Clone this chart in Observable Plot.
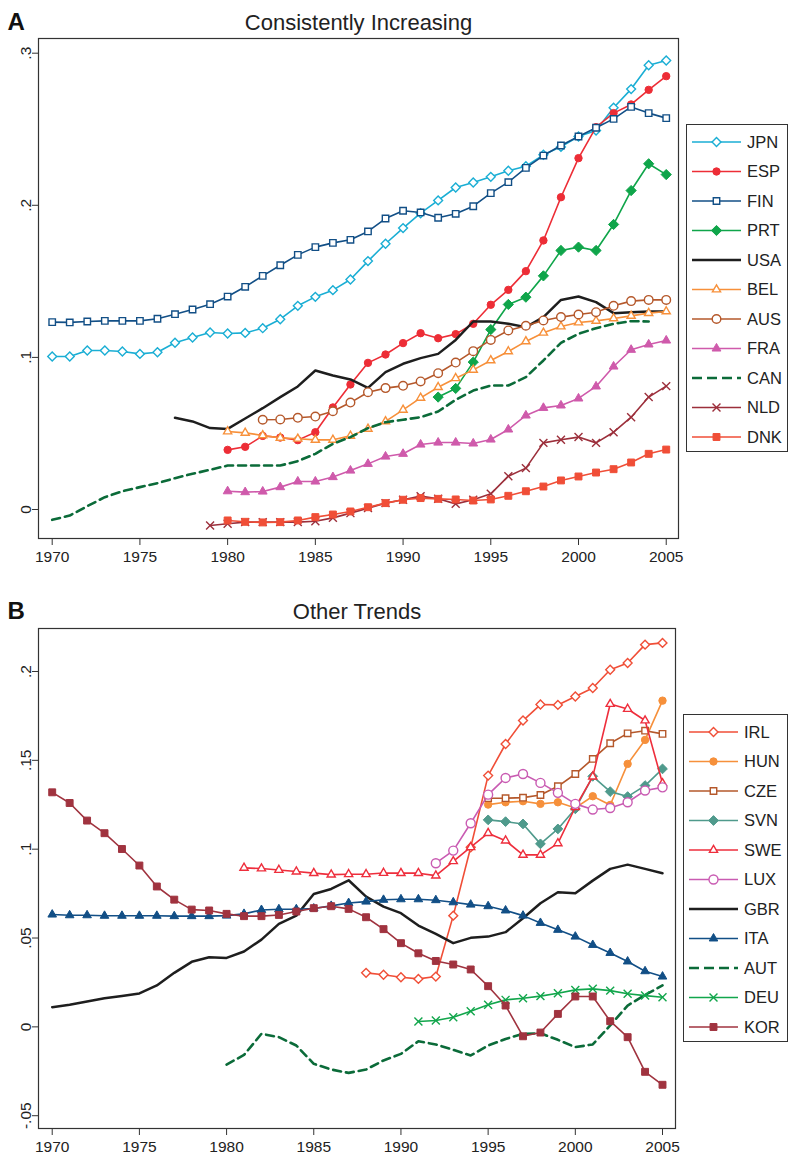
<!DOCTYPE html>
<html><head><meta charset="utf-8">
<script src="https://cdn.jsdelivr.net/npm/d3@7"></script>
<script src="https://cdn.jsdelivr.net/npm/@observablehq/plot@0.6"></script>
<style>
body{margin:0;background:#fff;}
#wrap{position:relative;width:788px;height:1158px;overflow:hidden;background:#fff;font-family:"Liberation Sans",Arial,Helvetica,sans-serif;}
#wrap svg{position:absolute;}
</style></head>
<body><div id="wrap"></div>
<script>
// ---------- Panel A data ----------
const JPN = [.1006,.1006,.1045,.1045,.1039,.1023,.1034,.1096,.1131,.1164,.1157,.1161,.1192,.1251,.1339,.1398,.1442,.1512,.1633,.1747,.185,.1948,.2032,.2117,.215,.2187,.2227,.2257,.2332,.2384,.2452,.2492,.2641,.2764,.2921,.2952];
const ESP = [.0392,.0412,.0484,.0473,.0456,.0508,.0671,.0822,.0964,.1019,.1094,.1159,.1126,.1153,.1221,.1346,.1444,.1567,.1769,.2053,.231,.2514,.2606,.2663,.2759,.2849];
const FIN = [.1232,.123,.1236,.124,.124,.124,.1254,.1284,.1315,.135,.140,.1464,.1536,.1606,.1674,.1725,.1753,.1773,.1828,.1913,.1964,.1953,.1918,.1944,.1994,.208,.2152,.2246,.2327,.2393,.2452,.251,.2568,.2647,.2606,.2573];
const PRT = [.0739,.0796,.0969,.1183,.1348,.1396,.1536,.1703,.1725,.1703,.1874,.2097,.2273,.2202];
const USA = [.0603,.0579,.0535,.053,.0598,.0666,.0739,.0809,.0914,.0881,.0855,.08,.0903,.0958,.0995,.1023,.1115,.1236,.1236,.1221,.1199,.1265,.1378,.14,.1363,.1291,.1297,.1302,.1302];
const BEL = [.0513,.0504,.0487,.0471,.0465,.0458,.0458,.0484,.053,.0579,.0655,.0734,.0804,.0863,.0918,.098,.1039,.1105,.1162,.1203,.1229,.124,.1256,.1273,.1291,.1302];
const AUS = [.059,.0592,.0603,.0611,.0646,.0703,.0771,.0798,.0813,.0842,.0896,.0966,.1041,.1115,.1177,.1208,.1243,.1265,.1282,.1297,.1339,.137,.1378,.1378];
const FRA = [.012,.0114,.0118,.0147,.0184,.0184,.0213,.0256,.03,.0348,.0366,.0427,.044,.044,.0434,.046,.0526,.0618,.0668,.0684,.073,.0809,.094,.105,.1085,.1111];
const CAN = [-.0068,-.004,.0022,.0081,.012,.0147,.0173,.0206,.0235,.0261,.0289,.0289,.0289,.0289,.0318,.0366,.0432,.0476,.0535,.0574,.059,.0607,.0644,.0721,.0782,.0815,.0815,.087,.098,.1096,.1155,.1192,.1221,.1238,.1236];
const NLD = [-.0105,-.0094,-.0083,-.0083,-.0083,-.0083,-.0077,-.0055,-.0024,.0009,.0042,.0064,.0088,.007,.0037,.0064,.0103,.0219,.0272,.0438,.0458,.0476,.0438,.0508,.0607,.0739,.0811];
const DNK = [-.0072,-.0081,-.0085,-.0083,-.0072,-.005,-.0033,-.0013,.0015,.0042,.0064,.0075,.007,.0066,.0059,.0066,.009,.012,.0151,.0191,.0217,.0243,.0265,.0309,.0366,.0394];
const codesA = ["JPN","ESP","FIN","PRT","USA","BEL","AUS","FRA","CAN","NLD","DNK"];
const startA = {JPN:1970,ESP:1980,FIN:1970,PRT:1992,USA:1977,BEL:1980,AUS:1982,FRA:1980,CAN:1970,NLD:1979,DNK:1980};
const valuesA = {JPN,ESP,FIN,PRT,USA,BEL,AUS,FRA,CAN,NLD,DNK};

// ---------- Panel B data ----------
const IRL = [.0304,.0293,.0279,.027,.0283,.0626,.1011,.1414,.1592,.1724,.1814,.1812,.1859,.1907,.201,.2048,.2151,.2161];
const HUN = [.1251,.1264,.127,.1255,.1264,.1232,.1298,.1249,.148,.1615,.1836];
const CZE = [.1287,.1287,.129,.1305,.1354,.1423,.1508,.1596,.1652,.1667,.1649];
const SVN = [.1165,.1155,.1142,.103,.1114,.1227,.141,.1324,.1296,.1358,.1452];
const SWE = [.0895,.0891,.0883,.0874,.0865,.0857,.0859,.0859,.0866,.0865,.0865,.0851,.0932,.1011,.109,.1048,.0968,.0968,.1033,.1236,.1408,.1817,.1789,.1724,.1371];
const LUX = [.0921,.0992,.1146,.1307,.1401,.1423,.1373,.1317,.1255,.1223,.1232,.1264,.133,.1348];
const GBR = [.0111,.0124,.0143,.0161,.0174,.0188,.0233,.0304,.0366,.0392,.0388,.0424,.0491,.058,.0626,.0748,.0776,.0825,.0733,.0677,.064,.057,.0523,.0471,.0501,.0508,.0533,.0611,.0696,.0758,.0752,.0823,.0889,.0913,.0889,.0865];
const ITA = [.0632,.0628,.0628,.0625,.0625,.0625,.0625,.0623,.0623,.0623,.0626,.0636,.0658,.0662,.0662,.0666,.0681,.0697,.0705,.0715,.0718,.0718,.0713,.0701,.0688,.0679,.0655,.0626,.0585,.0546,.0508,.0461,.0416,.0368,.0313,.0283];
const AUT = [-.0212,-.0158,-.0039,-.0058,-.0105,-.0208,-.024,-.0259,-.024,-.0189,-.0152,-.0081,-.0099,-.0129,-.0161,-.0105,-.0068,-.0039,-.0036,-.0073,-.0114,-.0099,.0008,.012,.018,.0233];
const DEU = [.003,.0036,.0054,.0088,.0124,.0152,.0161,.0173,.0189,.0208,.0214,.0204,.0186,.0176,.0167];
const KOR = [.132,.126,.1161,.109,.1001,.0908,.079,.0716,.066,.0655,.0636,.0623,.0623,.063,.0649,.0668,.0679,.0664,.0617,.055,.0471,.0414,.0371,.0351,.0323,.0229,.012,-.0053,-.0032,.0073,.0171,.0171,.0032,-.0058,-.0253,-.0326];
const codesB = ["IRL","HUN","CZE","SVN","SWE","LUX","GBR","ITA","AUT","DEU","KOR"];
const startB = {IRL:1988,HUN:1995,CZE:1995,SVN:1995,SWE:1981,LUX:1992,GBR:1970,ITA:1970,AUT:1980,DEU:1991,KOR:1970};
const valuesB = {IRL,HUN,CZE,SVN,SWE,LUX,GBR,ITA,AUT,DEU,KOR};

// ---------- ticks & titles ----------
const xTicks = [1970,1975,1980,1985,1990,1995,2000,2005];
const yTicksA = [0,.1,.2,.3];
const yTicksB = [-.05,0,.05,.1,.15,.2];
const titleA = "Consistently Increasing", letterA = "A";
const titleB = "Other Trends", letterB = "B";

// ---------- styles ----------
const styles = {
  JPN:{color:"#1aaed4", symbol:"diamond2", open:true, r:4},
  ESP:{color:"#ed2d36", symbol:"circle", open:false, r:3.7},
  FIN:{color:"#124f86", symbol:"square2", open:true, r:4.1},
  PRT:{color:"#0fa54a", symbol:"diamond2", open:false, r:4.6},
  USA:{color:"#1e1e1e", symbol:null, lw:2.5},
  BEL:{color:"#f7903a", symbol:"triangle2", open:true, r:3.9},
  AUS:{color:"#b5582b", symbol:"circle", open:true, r:4.3},
  FRA:{color:"#cf5aab", symbol:"triangle2", open:false, r:4.2},
  CAN:{color:"#0b6b39", symbol:null, lw:2.6, dash:"8,5"},
  NLD:{color:"#9c2f3b", symbol:"times", open:true, r:3.7},
  DNK:{color:"#f04e37", symbol:"square2", open:false, r:4.4},
  IRL:{color:"#f04e37", symbol:"diamond2", open:true, r:4},
  HUN:{color:"#f6903b", symbol:"circle", open:false, r:3.7},
  CZE:{color:"#b5582b", symbol:"square2", open:true, r:4.1},
  SVN:{color:"#4f9a8c", symbol:"diamond2", open:false, r:4.4},
  SWE:{color:"#ee2e3c", symbol:"triangle2", open:true, r:3.9},
  LUX:{color:"#c95bb2", symbol:"circle", open:true, r:4.5},
  GBR:{color:"#1e1e1e", symbol:null, lw:2.5},
  ITA:{color:"#124f86", symbol:"triangle2", open:false, r:4.1},
  AUT:{color:"#0b6b39", symbol:null, lw:2.6, dash:"8,5"},
  DEU:{color:"#12a64c", symbol:"times", open:true, r:3.7},
  KOR:{color:"#a0333f", symbol:"square2", open:false, r:4.4}
};

const fmtY = d => d === 0 ? "0" : String(+d.toFixed(2)).replace("0.", ".");
const FONT = "'Liberation Sans', Arial, Helvetica, sans-serif";

function rowsFor(codes, starts, vals) {
  return codes.flatMap(c => vals[c].map((v, i) => ({code: c, year: starts[c] + i, value: v})));
}

function seriesMarks(rows, codes) {
  const marks = [];
  for (const c of codes) {
    const st = styles[c];
    const data = rows.filter(d => d.code === c);
    marks.push(Plot.line(data, {x: "year", y: "value", stroke: st.color, strokeWidth: st.lw || 1.6,
      strokeDasharray: st.dash, strokeLinejoin: "round"}));
    if (st.symbol) {
      marks.push(Plot.dot(data, {x: "year", y: "value", symbol: st.symbol, r: st.r,
        fill: st.symbol === "times" ? "none" : (st.open ? "white" : st.color),
        stroke: st.color, strokeWidth: st.open ? 1.4 : 1}));
    }
  }
  return marks;
}

function panel({rows, codes, width, height, xDomain, yDomain, yTicks, title, letter, titleDy}) {
  return Plot.plot({
    width, height,
    marginLeft: 38, marginRight: width - (width - 2), marginTop: 38, marginBottom: height - 538,
    style: {fontFamily: FONT, color: "#222", background: "white", overflow: "visible"},
    x: {domain: xDomain, label: null},
    y: {domain: yDomain, label: null},
    marks: [
      Plot.axisX({ticks: xTicks, tickSize: 7, tickPadding: 5, tickFormat: d => String(d), fontSize: 15.5, label: null, stroke: "#333"}),
      Plot.axisY({ticks: yTicks, tickSize: 6, tickFormat: () => "", label: null, stroke: "#333"}),
      Plot.text(yTicks, {y: d => d, text: fmtY, frameAnchor: "left", dx: -8, rotate: -90,
        textAnchor: "middle", lineAnchor: "bottom", fontSize: 15.5, fill: "#222"}),
      ...seriesMarks(rows, codes),
      Plot.frame({stroke: "#333", strokeWidth: 1.2}),
      Plot.text([title], {frameAnchor: "top", dy: titleDy, lineAnchor: "bottom", fontSize: 22, fill: "#222"}),
      Plot.text([letter], {frameAnchor: "top-left", dx: -31, dy: titleDy, textAnchor: "start", lineAnchor: "bottom",
        fontSize: 24, fontWeight: "bold", fill: "#111"})
    ]
  });
}

const wrap = document.getElementById("wrap");

const svgA = panel({rows: rowsFor(codesA, startA, valuesA), codes: codesA, width: 680, height: 575,
  xDomain: [1969.219, 2005.70], yDomain: [-0.01907, 0.30966], yTicks: yTicksA,
  title: titleA, letter: letterA, titleDy: -9});
svgA.style.left = "0px"; svgA.style.top = "0px";
wrap.appendChild(svgA);

const svgB = panel({rows: rowsFor(codesB, startB, valuesB), codes: codesB, width: 677, height: 568,
  xDomain: [1969.214, 2005.745], yDomain: [-0.0572, 0.2242], yTicks: yTicksB,
  title: titleB, letter: letterB, titleDy: -10});
svgB.style.left = "0px"; svgB.style.top = "590px";
wrap.appendChild(svgB);

// ---------- legends ----------
const symMap = {diamond2: d3.symbolDiamond2, circle: d3.symbolCircle, square2: d3.symbolSquare2,
  triangle2: d3.symbolTriangle2, times: d3.symbolTimes};

function legend(codes, left, top, w, h) {
  const svg = d3.select(wrap).append("svg")
    .style("left", left + "px").style("top", top + "px")
    .attr("width", w).attr("height", h);
  svg.append("rect").attr("x", 0.5).attr("y", 0.5).attr("width", w - 1).attr("height", h - 1)
    .attr("fill", "white").attr("stroke", "#333").attr("stroke-width", 1);
  codes.forEach((c, i) => {
    const st = styles[c];
    const y = 18 + i * 29.5;
    svg.append("line").attr("x1", 6).attr("x2", 55).attr("y1", y).attr("y2", y)
      .attr("stroke", st.color).attr("stroke-width", st.lw || 1.6)
      .attr("stroke-dasharray", st.dash ? "10,5" : null);
    if (st.symbol) {
      svg.append("path").attr("transform", `translate(30.5,${y})`)
        .attr("d", d3.symbol(symMap[st.symbol], Math.PI * st.r * st.r)())
        .attr("fill", st.symbol === "times" ? "none" : (st.open ? "white" : st.color))
        .attr("stroke", st.color).attr("stroke-width", st.open ? 1.4 : 1);
    }
    svg.append("text").attr("x", 61).attr("y", y).attr("dy", "0.36em")
      .attr("font-family", FONT).attr("font-size", 16.5).attr("fill", "#222").text(c);
  });
}
legend(codesA, 686, 124, 102, 328);
legend(codesB, 683, 714, 105, 328);
</script>
</body></html>
